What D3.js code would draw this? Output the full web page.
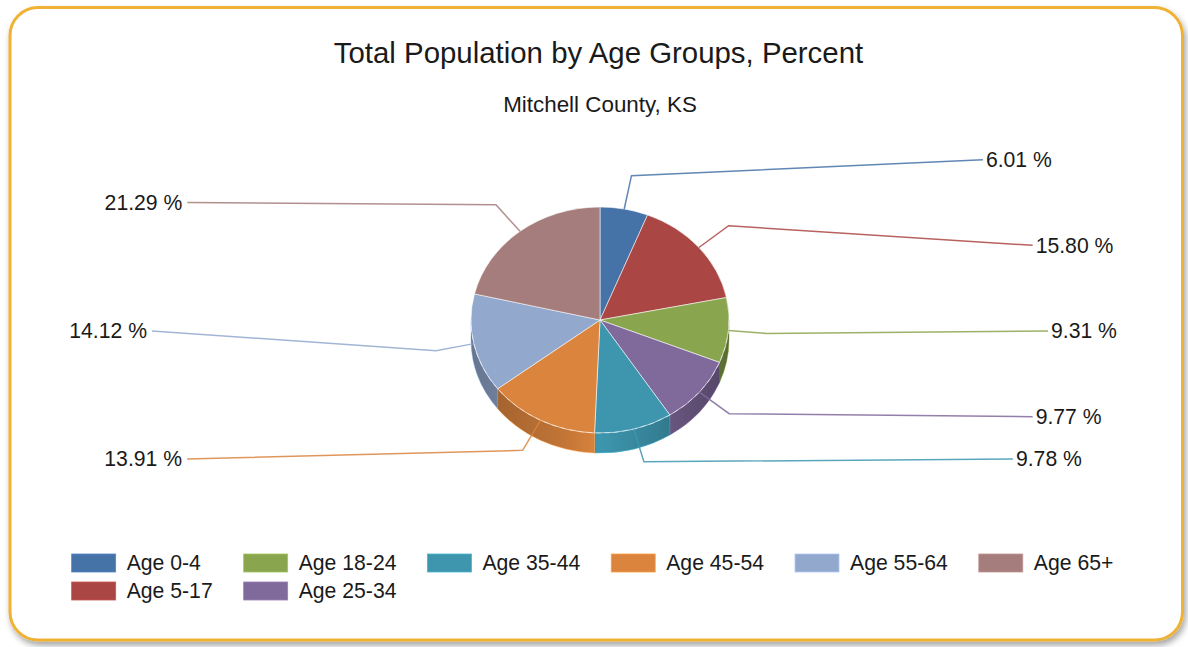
<!DOCTYPE html>
<html><head><meta charset="utf-8">
<script src="https://cdn.jsdelivr.net/npm/d3@7"></script>
<style>
html,body{margin:0;padding:0;background:#fff;}
svg{display:block;font-family:"Liberation Sans",Arial,sans-serif;}
</style></head><body>
<svg id="chart" width="1188" height="647"></svg>
<script>
const categories = ["Age 0-4","Age 5-17","Age 18-24","Age 25-34","Age 35-44","Age 45-54","Age 55-64","Age 65+"];
const values = [6.01,15.80,9.31,9.77,9.78,13.91,14.12,21.29];
const colors = ["#4572A7","#AA4643","#89A54E","#80699B","#3D96AE","#DB843D","#92A8CD","#A47D7C"];
const titleText = "Total Population by Age Groups, Percent";
const subtitleText = "Mitchell County, KS";

const svg = d3.select("#chart");
const defs = svg.append("defs");
const f = defs.append("filter").attr("id","shadow").attr("x","-3%").attr("y","-3%").attr("width","106%").attr("height","110%");
f.append("feDropShadow").attr("dx",2).attr("dy",4).attr("stdDeviation",3).attr("flood-color","#000").attr("flood-opacity",0.35);

svg.append("rect").attr("x",10).attr("y",7.5).attr("width",1172.5).attr("height",632.5).attr("rx",28)
  .attr("fill","#fff").attr("stroke","#F0B234").attr("stroke-width",3).attr("filter","url(#shadow)");

svg.append("text").attr("x",598.5).attr("y",63).attr("text-anchor","middle").attr("font-size",29.4).attr("fill","#1a1a1a").text(titleText);
svg.append("text").attr("x",600).attr("y",112).attr("text-anchor","middle").attr("font-size",22.4).attr("fill","#1a1a1a").text(subtitleText);

// pie geometry
const cx = 600, cy = 320, rx = 129, ry = 113, depth = 20;
const pie = d3.pie().sort(null).value(d => d.v);
const data = values.map((v,i) => ({v, name: categories[i], color: colors[i]}));
const arcs = pie(data);
const pt = (a, r = 1, dz = 0) => [cx + r * rx * Math.sin(a), cy - r * ry * Math.cos(a) + dz];

// side-shading gradient
const g1 = defs.append("linearGradient").attr("id","sideShade").attr("gradientUnits","userSpaceOnUse")
  .attr("x1", cx - rx).attr("x2", cx + rx).attr("y1",0).attr("y2",0);
[[0,0.3],[0.35,0.12],[0.5,0.0],[0.65,0.1],[1,0.35]].forEach(([o,op]) =>
  g1.append("stop").attr("offset",o).attr("stop-color","#000").attr("stop-opacity",op));

const sideG = svg.append("g");
const HALF = Math.PI / 2, TH = 3 * Math.PI / 2;
function sidePath(s, e) {
  const p0 = pt(s), p1 = pt(e), p2 = pt(e,1,depth), p3 = pt(s,1,depth);
  return `M${p0}A${rx},${ry} 0 0 1 ${p1}L${p2}A${rx},${ry} 0 0 0 ${p3}Z`;
}
arcs.forEach(a => {
  const s = Math.max(a.startAngle, HALF), e = Math.min(a.endAngle, TH);
  if (s < e) {
    sideG.append("path").attr("d", sidePath(s, e)).attr("fill", a.data.color)
      .attr("stroke", d3.color(a.data.color).brighter(0.6)).attr("stroke-width",0.6);
  }
});
sideG.append("path").attr("d", sidePath(HALF, TH)).attr("fill","url(#sideShade)");

// top faces
const arcGen = d3.arc().innerRadius(0).outerRadius(rx);
const topG = svg.append("g").attr("transform", `translate(${cx},${cy}) scale(1,${ry/rx})`);
topG.selectAll("path").data(arcs).join("path")
  .attr("d", arcGen).attr("fill", d => d.data.color)
  .attr("stroke","rgba(255,255,255,0.55)").attr("stroke-width",1).attr("vector-effect","non-scaling-stroke");

// faint dashed rim highlight
svg.append("path").attr("d", `M${pt(HALF)}A${rx},${ry} 0 0 1 ${pt(TH)}`)
  .attr("fill","none").attr("stroke","rgba(255,255,255,0.45)").attr("stroke-width",1).attr("stroke-dasharray","5 4");

// leader lines + labels: labels spread evenly in a vertical band on each side
const Lx = 448, Ly = 330, bandC = cy + 11, bandH = 514, yMax = cy + 139;
const items = arcs.map(a => {
  const mid = (a.startAngle + a.endAngle) / 2;
  return {a, mid, right: mid < Math.PI};
});
[true, false].forEach(side => {
  const grp = items.filter(d => d.right === side)
    .sort((p, q) => side ? p.mid - q.mid : q.mid - p.mid);
  const n = grp.length;
  grp.forEach((d, i) => {
    let y = bandC - bandH / 2 + (i + 1) * bandH / (n + 1);
    y = Math.min(y, yMax);
    const t = (y - bandC) / Ly;
    const x = cx + (side ? 1 : -1) * Lx * Math.sqrt(Math.max(0, 1 - t * t));
    d.end = [x, y];
  });
});
const labelG = svg.append("g");
items.forEach(d => {
  const pts = [pt(d.mid, 1.0), pt(d.mid, 1.3), d.end];
  labelG.append("path").attr("d", d3.line()(pts)).attr("fill","none")
    .attr("stroke", d.a.data.color).attr("stroke-opacity",0.85).attr("stroke-width",1.5);
  labelG.append("text").attr("x", d.end[0] + (d.right ? 3 : -5)).attr("y", d.end[1]).attr("dy","0.35em")
    .attr("text-anchor", d.right ? "start" : "end").attr("font-size",21.2).attr("fill","#1a1a1a")
    .text(d.a.data.v.toFixed(2) + " %");
});

// legend (2 rows, items flow column by column in reference order)
const sw = 44, sh = 18, tg = 11, colGap = 31, rowH = 28, legTop = 554, legCenter = 592.5;
const legG = svg.append("g");
const tmp = legG.append("text").attr("font-size",21.2);
const widths = categories.map(c => { tmp.text(c); return tmp.node().getComputedTextLength(); });
tmp.remove();
const order = [[0,2,4,5,6,7],[1,3]];
const colMax = d3.range(order[0].length).map(c => d3.max(order.map(r => r[c]).filter(i => i !== undefined), i => widths[i]));
const colX = []; let x = 0;
colMax.forEach(w => { colX.push(x); x += sw + tg + w + colGap; });
const totalW = x - colGap;
const x0 = legCenter - totalW / 2;
order.forEach((row, r) => row.forEach((i, c) => {
  const gx = x0 + colX[c], gy = legTop + r * rowH;
  legG.append("rect").attr("x", gx).attr("y", gy).attr("width", sw).attr("height", sh)
    .attr("fill", colors[i]).attr("stroke", d3.color(colors[i]).brighter(0.5)).attr("stroke-width",0.8);
  legG.append("text").attr("x", gx + sw + tg).attr("y", gy + sh / 2).attr("dy","0.35em")
    .attr("font-size",21.2).attr("fill","#1a1a1a").text(categories[i]);
}));
</script>
</body></html>
